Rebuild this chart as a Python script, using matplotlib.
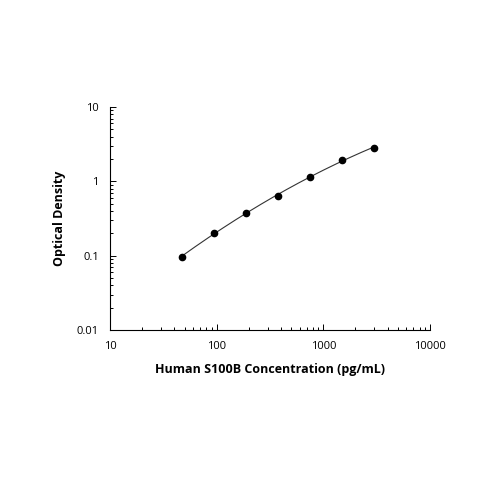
import numpy as np
import matplotlib.pyplot as plt

# standard curve readings
conc = [46.875, 93.75, 187.5, 375, 750, 1500, 3000]
od = [0.097, 0.20, 0.37, 0.64, 1.15, 1.95, 2.85]

plt.rcParams['font.family'] = ['Open Sans', 'DejaVu Sans']

fig = plt.figure(figsize=(5, 5), dpi=100)
ax = fig.add_axes([0.22, 0.34, 0.64, 0.446])

# smooth fit in log-log space (quadratic)
lx, ly = np.log10(conc), np.log10(od)
coef = np.polyfit(lx, ly, 2)
xs = np.linspace(lx[0], lx[-1], 200)
ax.plot(10 ** xs, 10 ** np.polyval(coef, xs), color='#333333', lw=0.8)
ax.plot(conc, od, 'o', color='black', ms=4.5)

ax.set_xscale('log')
ax.set_yscale('log')
ax.set_xlim(10, 10000)
ax.set_ylim(0.01, 10)
ax.set_xticks([10, 100, 1000, 10000])
ax.set_xticklabels(['10', '100', '1000', '10000'])
ax.set_yticks([0.01, 0.1, 1, 10])
ax.set_yticklabels(['0.01', '0.1', '1', '10'])
ax.tick_params(which='both', direction='in', labelsize=8, width=0.7)
ax.tick_params(which='major', length=4, pad=8)
ax.tick_params(which='minor', length=2.5)
for s in ['top', 'right']:
    ax.spines[s].set_visible(False)
for s in ['left', 'bottom']:
    ax.spines[s].set_linewidth(0.8)

ax.set_xlabel('Human S100B Concentration (pg/mL)', fontsize=9, fontweight='bold', labelpad=8)
ax.set_ylabel('Optical Density', fontsize=9, fontweight='bold', labelpad=8)

fig.savefig('out.png', dpi=100)
